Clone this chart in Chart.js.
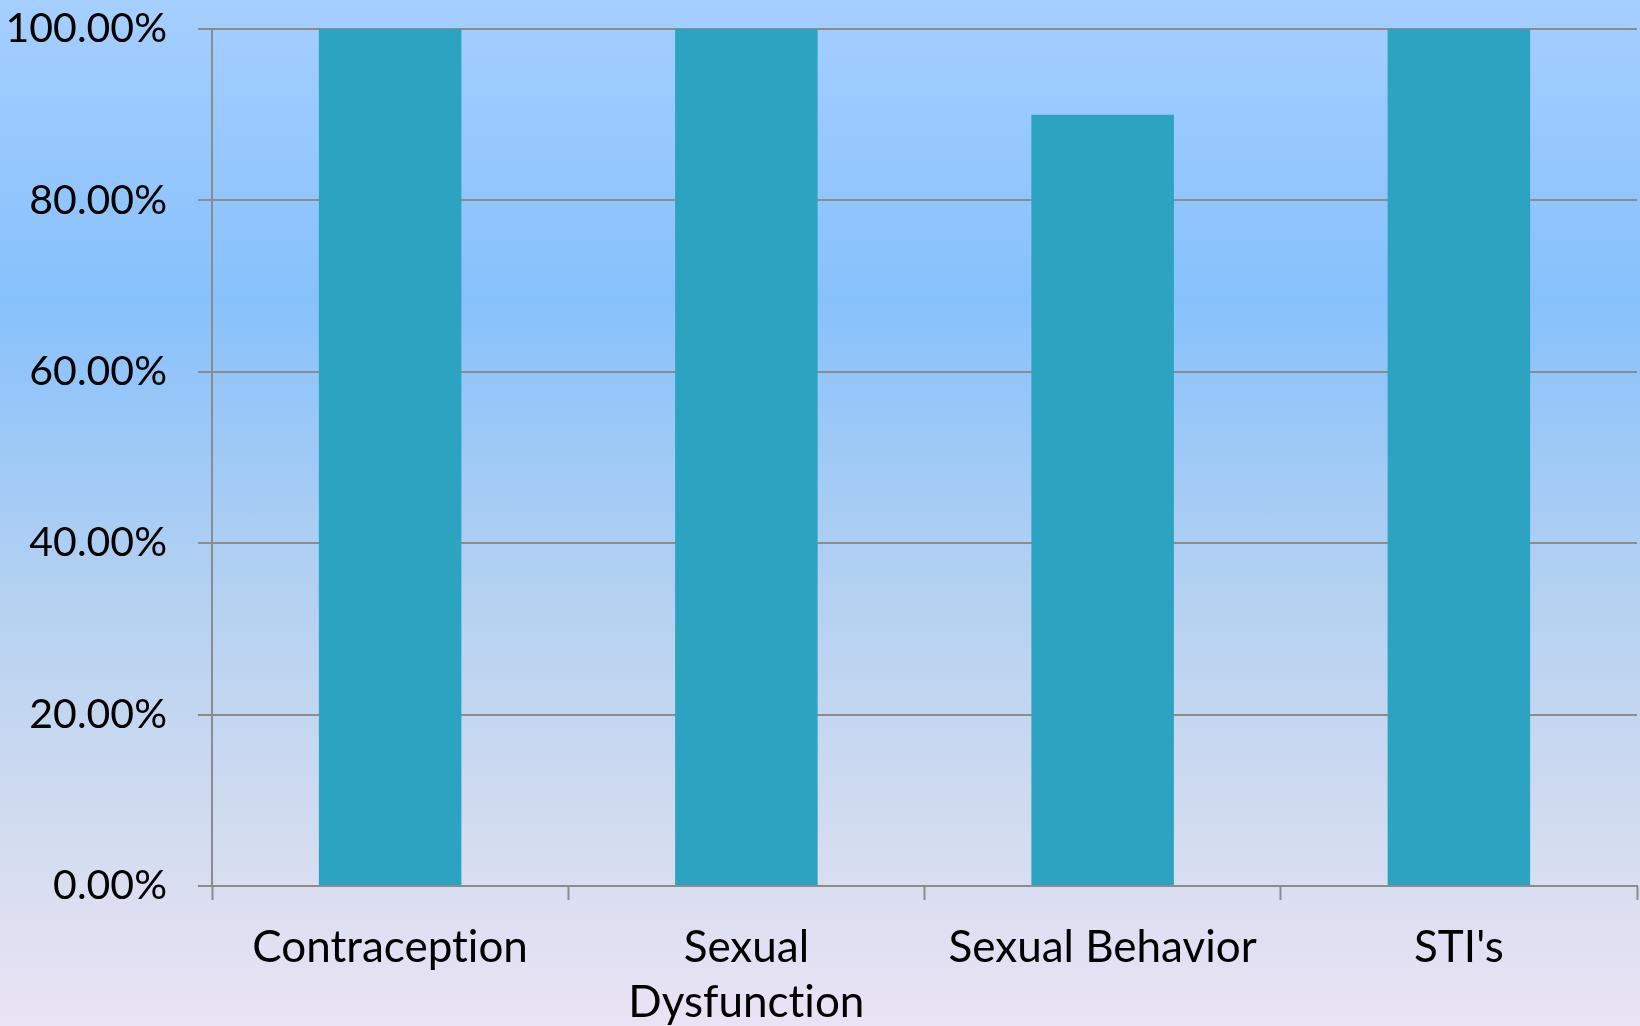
<!DOCTYPE html>
<html>
<head>
<meta charset="utf-8">
<title>Topics</title>
<script src="https://cdn.jsdelivr.net/npm/chart.js@4.4.0/dist/chart.umd.min.js"></script>
<style>
  html, body {
    margin: 0;
    padding: 0;
    width: 1640px;
    height: 1026px;
    overflow: hidden;
  }
  body {
    background: linear-gradient(to bottom, #a5cffe 0%, #87c1fc 29%, #b4d1f1 58%, #d6ddf0 84%, #eae3f4 100%);
  }
  #wrap {
    position: relative;
    width: 1640px;
    height: 1026px;
  }
</style>
</head>
<body>
<div id="wrap"><canvas id="chart"></canvas></div>
<script>
const categories = ['Contraception', ['Sexual', 'Dysfunction'], 'Sexual Behavior', "STI's"];
const percentValues = [100, 100, 90, 100];
const yTicks = [0, 20, 40, 60, 80, 100];

const axisGray = '#8c8c8c';
const barColor = '#2ca3c0';

// keep "ti" from turning into a ligature in Lato
const noLig = (s) => s.replace(/t(?=i)/g, 't\u200C');

const ctx = document.getElementById('chart');

new Chart(ctx, {
  type: 'bar',
  data: {
    labels: categories,
    datasets: [
      {
        label: 'Percent',
        data: percentValues,
        backgroundColor: barColor,
        borderWidth: 0,
        barPercentage: 0.4,
        categoryPercentage: 1.0,
      },
    ],
  },
  options: {
    responsive: true,
    maintainAspectRatio: false,
    animation: false,
    layout: {
      padding: { top: 29, right: 3, left: 0, bottom: 0 },
    },
    plugins: {
      legend: { display: false },
      tooltip: { enabled: false },
    },
    scales: {
      x: {
        grid: {
          display: true,
          drawOnChartArea: false,
          drawTicks: true,
          tickLength: 14,
          tickWidth: 2,
          tickColor: axisGray,
          offset: true,
        },
        border: { display: true, color: axisGray, width: 2 },
        ticks: {
          color: '#000',
          padding: 20,
          maxRotation: 0,
          autoSkip: false,
          font: { family: 'Lato', size: 44, lineHeight: 1.25 },
          callback: function (value) {
            const lbl = this.getLabelForValue(value);
            return Array.isArray(lbl) ? lbl.map(noLig) : noLig(lbl);
          },
        },
        afterFit: (scale) => {
          scale.height = 140;
          scale.paddingLeft = 0;
          scale.paddingRight = 0;
        },
      },
      y: {
        min: 0,
        max: 100,
        afterBuildTicks: (scale) => {
          scale.ticks = yTicks.map((v) => ({ value: v }));
        },
        grid: {
          color: axisGray,
          lineWidth: 2,
          drawTicks: true,
          tickLength: 14,
          tickColor: axisGray,
        },
        border: { display: true, color: axisGray, width: 2 },
        ticks: {
          color: '#000',
          padding: 31,
          font: { family: 'Lato', size: 41 },
          callback: (value) => value.toFixed(2) + '%',
        },
        afterFit: (scale) => {
          scale.width = 212;
          scale.paddingTop = 0;
          scale.paddingBottom = 0;
        },
      },
    },
  },
});
</script>
</body>
</html>
